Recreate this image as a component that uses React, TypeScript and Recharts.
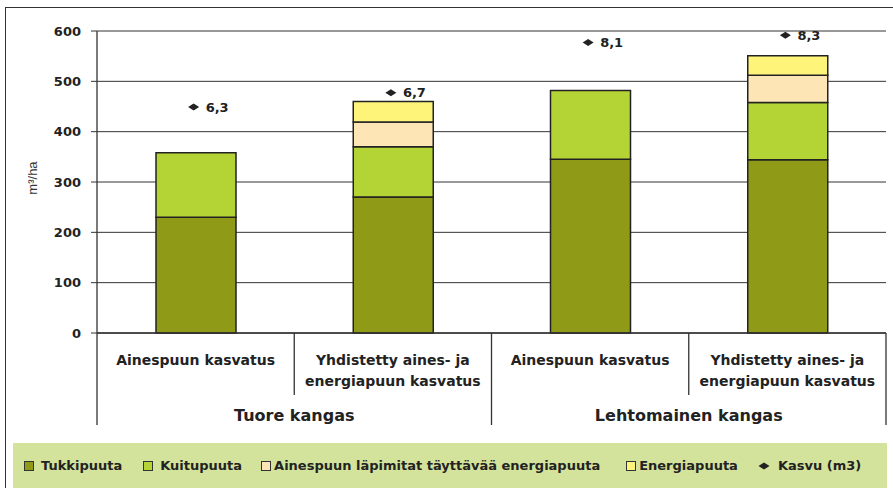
import React from 'react';
import { ComposedChart, Bar, Line, XAxis, YAxis, CartesianGrid, Legend, LabelList, Label } from 'recharts';

const categories = [
  'Ainespuun kasvatus',
  'Yhdistetty aines- ja energiapuun kasvatus',
  'Ainespuun kasvatus',
  'Yhdistetty aines- ja energiapuun kasvatus',
];
const categoryLines = [
  ['Ainespuun kasvatus'],
  ['Yhdistetty aines- ja', 'energiapuun kasvatus'],
  ['Ainespuun kasvatus'],
  ['Yhdistetty aines- ja', 'energiapuun kasvatus'],
];
const groups = ['Tuore kangas', 'Lehtomainen kangas'];

const tukkipuuta = [230, 270, 345, 344];
const kuitupuuta = [128, 100, 137, 114];
const ainesEnergia = [0, 49, 0, 54];
const energiapuuta = [0, 41, 0, 39];
const kasvu = [6.3, 6.7, 8.1, 8.3];

const yTicks = [0, 100, 200, 300, 400, 500, 600];
const seriesNames = [
  'Tukkipuuta',
  'Kuitupuuta',
  'Ainespuun läpimitat täyttävää energiapuuta',
  'Energiapuuta',
  'Kasvu (m3)',
];
const yLabel = 'm³/ha';

const COLORS = ['#8F9A16', '#B4D335', '#FEE5B5', '#FFF47A', '#222222'];
const FONT = '"DejaVu Sans", "Liberation Sans", Arial, sans-serif';
const INK = '#222';

const data = categories.map((cat, i) => ({
  cat,
  tukki: tukkipuuta[i],
  kuitu: kuitupuuta[i],
  aines: ainesEnergia[i],
  energia: energiapuuta[i],
  kasvu: kasvu[i],
}));

const CategoryTick = (props: any) => {
  const { x, y, index, payload } = props;
  const i = typeof index === 'number' ? index : payload?.index ?? 0;
  const half = payload && typeof payload.offset === 'number' && payload.offset > 0 ? payload.offset : 98.6;
  const lines = categoryLines[i] ?? [];
  const left = x - half;
  const right = x + half;
  const full = 92;
  const short = 62;
  return (
    <g>
      <line x1={left} y1={y} x2={left} y2={y + (i % 2 === 0 ? full : short)} stroke="#333" strokeWidth={1.3} />
      {i === categoryLines.length - 1 && (
        <line x1={right} y1={y} x2={right} y2={y + full} stroke="#333" strokeWidth={1.3} />
      )}
      {lines.map((l, k) => (
        <text key={k} x={x} y={y + 32 + k * 21} textAnchor="middle" fontFamily={FONT} fontWeight="bold" fontSize={14} fill={INK}>
          {l}
        </text>
      ))}
      {i % 2 === 0 && (
        <text x={right} y={y + 88} textAnchor="middle" fontFamily={FONT} fontWeight="bold" fontSize={16} fill={INK}>
          {groups[i / 2]}
        </text>
      )}
    </g>
  );
};

const Diamond = (props: any) => {
  const { cx, cy } = props;
  if (cx == null || cy == null) return null;
  const c = cx - 2;
  return <path d={`M${c - 5.5},${cy} L${c},${cy - 3.5} L${c + 5.5},${cy} L${c},${cy + 3.5} Z`} fill={COLORS[4]} />;
};

const KasvuLabel = (p: any) => {
  const vb = p.viewBox || {};
  const x = typeof p.x === 'number' ? p.x : vb.x;
  const y = typeof p.y === 'number' ? p.y : vb.y;
  if (x == null || y == null) return null;
  return (
    <text x={x + 10} y={y + 4.5} fontFamily={FONT} fontWeight="bold" fontSize={13} fill={INK}>
      {String(p.value).replace('.', ',')}
    </text>
  );
};

const LegendContent = () => {
  const item = (idx: number, gap: number, extraLeft: number) => (
    <div key={idx} style={{ display: 'flex', alignItems: 'center', marginLeft: extraLeft }}>
      {idx < 4 ? (
        <span style={{ display: 'inline-block', width: 8, height: 8, border: '1px solid #333', background: COLORS[idx] }} />
      ) : (
        <svg width={12} height={8} style={{ display: 'block' }}>
          <path d="M0.5,4 L6,0.5 L11.5,4 L6,7.5 Z" fill={COLORS[4]} />
        </svg>
      )}
      <span style={{ marginLeft: gap, fontFamily: FONT, fontWeight: 'bold', fontSize: 13, color: INK, whiteSpace: 'nowrap' }}>
        {seriesNames[idx]}
      </span>
    </div>
  );
  return (
    <div style={{ width: 874, height: 45, background: '#D3E39B', display: 'flex', alignItems: 'center', paddingLeft: 11, boxSizing: 'border-box' }}>
      {item(0, 7, 0)}
      {item(1, 7, 21)}
      {item(2, 3, 19)}
      {item(3, 3, 26)}
      {item(4, 8, 20)}
    </div>
  );
};

export default function App() {
  return (
    <div style={{ position: 'absolute', left: 0, top: 0, width: 893, height: 488, overflow: 'hidden', background: '#fff' }}>
      <div style={{ position: 'absolute', left: 5, top: 7, width: 900, height: 500, border: '1.5px solid #333', boxSizing: 'border-box' }} />
      <div style={{ position: 'absolute', left: 0, top: 0 }}>
        <ComposedChart width={893} height={488} data={data} margin={{ top: 31, right: 7, left: 0, bottom: 0 }} barGap={0}>
          <CartesianGrid vertical={false} stroke="#333" strokeWidth={1} />
          <XAxis
            dataKey="cat"
            height={110}
            interval={0}
            tickLine={false}
            tickSize={0}
            tickMargin={0}
            axisLine={{ stroke: '#333', strokeWidth: 1.3 }}
            tick={<CategoryTick />}
          />
          <YAxis
            width={97}
            domain={[0, 600]}
            ticks={yTicks}
            tickSize={6}
            tickMargin={10}
            axisLine={{ stroke: '#333', strokeWidth: 1.3 }}
            tickLine={{ stroke: '#333' }}
            tick={{ fontFamily: FONT, fontWeight: 'bold', fontSize: 13, fill: INK }}
          >
            <Label
              content={(p: any) => {
                const vb = p.viewBox || { x: 0, y: 31, height: 302 };
                const cx = vb.x + 37;
                const cy = vb.y + vb.height / 2 - 4;
                return (
                  <text x={cx} y={cy} transform={`rotate(-90, ${cx}, ${cy})`} textAnchor="middle" fontFamily='"Liberation Sans", Arial, sans-serif' fontSize={13} fill="#333">
                    {yLabel}
                  </text>
                );
              }}
            />
          </YAxis>
          <YAxis yAxisId="k" orientation="right" hide domain={[0, 8.42]} />
          <Bar dataKey="tukki" name={seriesNames[0]} stackId="s" fill={COLORS[0]} stroke="#222" strokeWidth={1.5} barSize={80} isAnimationActive={false} />
          <Bar dataKey="kuitu" name={seriesNames[1]} stackId="s" fill={COLORS[1]} stroke="#222" strokeWidth={1.5} barSize={80} isAnimationActive={false} />
          <Bar dataKey="aines" name={seriesNames[2]} stackId="s" fill={COLORS[2]} stroke="#222" strokeWidth={1.5} barSize={80} isAnimationActive={false} />
          <Bar dataKey="energia" name={seriesNames[3]} stackId="s" fill={COLORS[3]} stroke="#222" strokeWidth={1.5} barSize={80} isAnimationActive={false} />
          <Line
            yAxisId="k"
            dataKey="kasvu"
            name={seriesNames[4]}
            stroke="none"
            dot={<Diamond />}
            activeDot={false}
            isAnimationActive={false}
          >
            <LabelList dataKey="kasvu" content={<KasvuLabel />} />
          </Line>
          <Legend
            verticalAlign="bottom"
            content={<LegendContent />}
            wrapperStyle={{ position: 'absolute', left: 13, top: 443, bottom: 'auto', width: 874, height: 45 }}
          />
        </ComposedChart>
      </div>
    </div>
  );
}
